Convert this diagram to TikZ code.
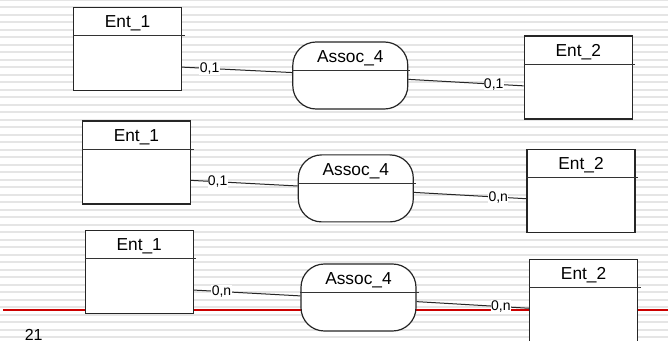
\documentclass[tikz,border=0pt]{standalone}
\usepackage{fontspec}
\setmainfont{Liberation Sans}
\usepackage{tikz}
\usetikzlibrary{positioning}

\definecolor{stripe}{HTML}{E5E5E5}
\definecolor{slidered}{HTML}{CC0000}

\begin{document}
\begin{tikzpicture}[x=0.75pt, y=-0.75pt, font=\fontsize{13}{15}\selectfont, thin,
    ent/.style = {draw=black!85, fill=white, line width=0.9pt, inner sep=0pt, minimum width=81pt, minimum height=62.25pt},
    assoc/.style = {draw=black!85, fill=white, line width=0.9pt, inner sep=0pt, rounded corners=17.5pt, minimum width=86.25pt, minimum height=50.25pt},
    title/.style = {anchor=base, inner sep=0pt},
    sep/.style = {draw=black!80, line width=0.8pt},
    link/.style = {draw=black!85, line width=0.75pt},
    card/.style = {fill=white, inner sep=0.3pt, font=\fontsize{10.5}{12}\selectfont}]
    \clip (0,0) rectangle (668,341);
    % striped slide background
    \fill[white] (0,0) rectangle (668,341);
    \foreach \k in {0,...,46}
        \draw[stripe, line width=1.5pt] (0,\k*7.5) -- (668,\k*7.5);
    \draw[slidered, line width=1.5pt] (3,310) -- (668,310);
    \node[anchor=base west, inner sep=0pt, font=\fontsize{12}{14}\selectfont] (pgno) at (24.5,340.5) {21};

    % first row: 0,1 -- 0,1
    \node[ent] (e1a) at (127.5,49) {};
    \node[assoc] (a1) at (350.3,75.5) {};
    \node[ent] (e2a) at (578.3,77.6) {};
    % second row: 0,1 -- 0,n
    \node[ent] (e1b) at (136.4,162.5) {};
    \node[assoc] (a2) at (355.8,188.4) {};
    \node[ent] (e2b) at (581,191) {};
    % third row: 0,n -- 0,n
    \node[ent] (e1c) at (139.2,272.2) {};
    \node[assoc] (a3) at (358.5,297.5) {};
    \node[ent] (e2c) at (583.6,300.8) {};

    \node[title] (t1a) at ([yshift=-15.5pt]e1a.north) {Ent\_1};
    \node[title] (t2a) at ([yshift=-15.7pt]a1.north) {Assoc\_4};
    \node[title] (t3a) at ([yshift=-15.5pt]e2a.north) {Ent\_2};
    \node[title] (t1b) at ([yshift=-15.5pt]e1b.north) {Ent\_1};
    \node[title] (t2b) at ([yshift=-15.7pt]a2.north) {Assoc\_4};
    \node[title] (t3b) at ([yshift=-15.5pt]e2b.north) {Ent\_2};
    \node[title] (t1c) at ([yshift=-15.5pt]e1c.north) {Ent\_1};
    \node[title] (t2c) at ([yshift=-15.7pt]a3.north) {Assoc\_4};
    \node[title] (t3c) at ([yshift=-15.5pt]e2c.north) {Ent\_2};

    \draw[sep] ([yshift=-21.5pt]e1a.north west) -- ([yshift=-21.5pt, xshift=1.9pt]e1a.north east);
    \draw[sep] ([yshift=-22pt]a1.north west) -- ([yshift=-22pt, xshift=1.5pt]a1.north east);
    \draw[sep] ([yshift=-21.5pt]e2a.north west) -- ([yshift=-21.5pt, xshift=1.9pt]e2a.north east);
    \draw[sep] ([yshift=-21.5pt]e1b.north west) -- ([yshift=-21.5pt, xshift=1.9pt]e1b.north east);
    \draw[sep] ([yshift=-22pt]a2.north west) -- ([yshift=-22pt, xshift=1.5pt]a2.north east);
    \draw[sep] ([yshift=-21.5pt]e2b.north west) -- ([yshift=-21.5pt, xshift=1.9pt]e2b.north east);
    \draw[sep] ([yshift=-21.5pt]e1c.north west) -- ([yshift=-21.5pt, xshift=1.9pt]e1c.north east);
    \draw[sep] ([yshift=-22pt]a3.north west) -- ([yshift=-22pt, xshift=1.5pt]a3.north east);
    \draw[sep] ([yshift=-21.5pt]e2c.north west) -- ([yshift=-21.5pt, xshift=1.9pt]e2c.north east);

    \draw[link] ([yshift=-13.6pt]e1a.east) -- node[card, pos=0.25] {0,1} ([yshift=2.2pt]a1.west);
    \draw[link] ([yshift=-2.9pt]a1.east) -- node[card, pos=0.74] {0,1} ([yshift=-6.2pt]e2a.west);
    \draw[link] ([yshift=-13.4pt]e1b.east) -- node[card, pos=0.25] {0,1} ([yshift=1.8pt]a2.west);
    \draw[link] ([yshift=-3pt]a2.east) -- node[card, pos=0.75] {0,n} ([yshift=-5.8pt]e2b.west);
    \draw[link] ([yshift=-13.4pt]e1c.east) -- node[card, pos=0.26] {0,n} ([yshift=1.2pt]a3.west);
    \draw[link] ([yshift=-3.1pt]a3.east) -- node[card, pos=0.75] {0,n} ([yshift=-5.6pt]e2c.west);
\end{tikzpicture}
\end{document}
